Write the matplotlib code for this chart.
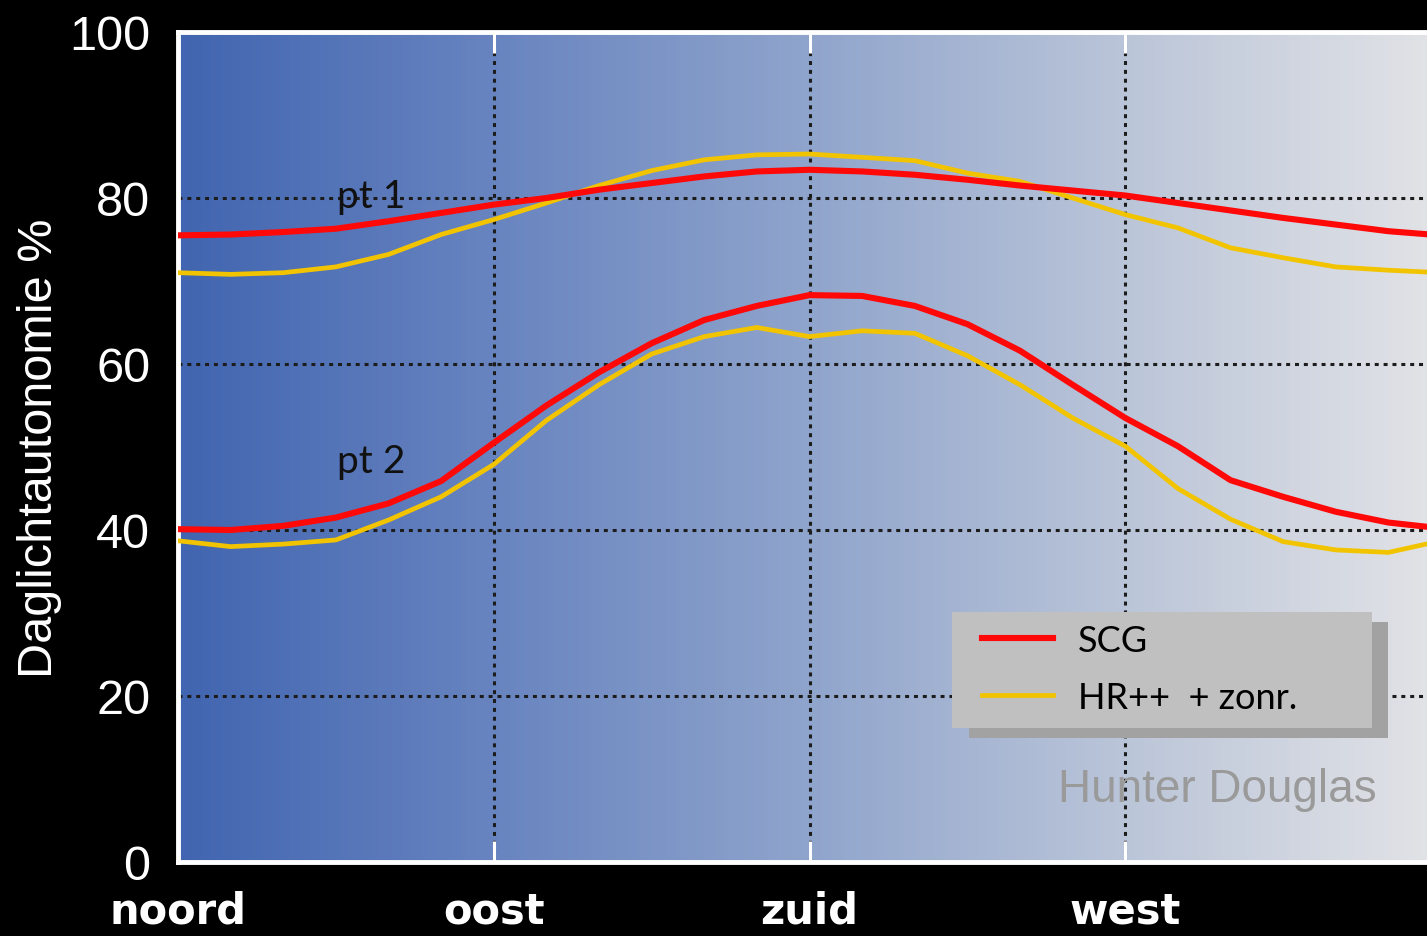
import numpy as np
import matplotlib.pyplot as plt
from matplotlib.colors import LinearSegmentedColormap
from matplotlib.patches import Rectangle

# azimuth in degrees (0 = noord, 90 = oost, 180 = zuid, 270 = west)
azimuth = [0, 15, 30, 45, 60, 75, 90, 105, 120, 135, 150, 165, 180,
           195, 210, 225, 240, 255, 270, 285, 300, 315, 330, 345, 360]

scg_pt1 = [75.5, 75.6, 75.9, 76.3, 77.2, 78.2, 79.2, 80.0, 81.0, 81.8, 82.6, 83.2, 83.4,
           83.2, 82.8, 82.2, 81.5, 80.9, 80.3, 79.4, 78.5, 77.6, 76.8, 76.0, 75.5]
hr_pt1 = [71.0, 70.8, 71.0, 71.7, 73.2, 75.6, 77.4, 79.4, 81.5, 83.3, 84.6, 85.2, 85.3,
          84.9, 84.5, 83.0, 82.0, 80.0, 78.0, 76.4, 74.0, 72.8, 71.7, 71.3, 71.0]
scg_pt2 = [40.1, 40.0, 40.5, 41.5, 43.2, 45.9, 50.5, 55.0, 59.0, 62.5, 65.3, 67.0, 68.3,
           68.2, 67.0, 64.8, 61.6, 57.5, 53.5, 50.1, 46.0, 44.0, 42.2, 40.9, 40.2]
hr_pt2 = [38.7, 38.0, 38.3, 38.8, 41.2, 44.0, 47.9, 53.2, 57.5, 61.2, 63.3, 64.4, 63.3,
          64.0, 63.7, 61.0, 57.5, 53.5, 50.1, 45.0, 41.3, 38.6, 37.6, 37.3, 38.7]

tick_pos = [0, 90, 180, 270]
tick_labels = ["noord", "oost", "zuid", "west"]
y_ticks = [0, 20, 40, 60, 80, 100]

red = "#ff0808"
yellow = "#f2c400"

fig = plt.figure(figsize=(14.27, 9.37), dpi=100, facecolor="black")
ax = fig.add_axes([178 / 1427, 1 - 863 / 937, 1 - 178 / 1427, 830 / 937])

# gradient background
grad = LinearSegmentedColormap.from_list(
    "bg", ["#4165b0", "#6884c0", "#8fa4cc", "#b9c4d8", "#e1e2e6"])
ax.imshow(np.linspace(0, 1, 256).reshape(1, -1), cmap=grad, aspect="auto",
          extent=[0, 356, 0, 100], zorder=0)

ax.set_xlim(0, 356)
ax.set_ylim(0, 100)

ax.grid(True, color="#1c1c1c", linestyle=(0, (1.3, 1.6)), linewidth=2.2, zorder=1)

ax.plot(azimuth, hr_pt1, color=yellow, lw=3.4, zorder=3, label="HR++  + zonr.")
ax.plot(azimuth, scg_pt1, color=red, lw=4.4, zorder=3, label="SCG")
ax.plot(azimuth, hr_pt2, color=yellow, lw=3.4, zorder=3)
ax.plot(azimuth, scg_pt2, color=red, lw=4.4, zorder=3)

ax.text(55, 80.2, "pt 1", fontsize=28, family="Lato", color="#111111",
        ha="center", va="center", zorder=4)
ax.text(55, 48.3, "pt 2", fontsize=28, family="Lato", color="#111111",
        ha="center", va="center", zorder=4)

for side in ["left", "top", "bottom"]:
    ax.spines[side].set_color("white")
    ax.spines[side].set_linewidth(3.5)
ax.spines["right"].set_visible(False)

ax.set_xticks(tick_pos)
ax.set_xticklabels(tick_labels, family="DejaVu Sans",
                   fontweight="bold", fontsize=30, color="white")
ax.tick_params(axis="x", direction="in", length=15, width=2.2, color="white",
               top=True, pad=20)
ax.set_yticks(y_ticks)
ax.set_yticklabels([str(v) for v in y_ticks], family="Liberation Sans",
                   fontsize=35, color="white")
ax.tick_params(axis="y", length=0, pad=20)

fig.text(40 / 1427, 1 - 448 / 937, "Daglichtautonomie %", rotation=90,
         ha="center", va="center", color="white", fontsize=35,
         family="Liberation Sans")

# legend box with shadow
ax.add_patch(Rectangle((0.633, 0.149), 0.336, 0.140, transform=ax.transAxes,
                       facecolor="#a2a2a2", edgecolor="none", zorder=5))
ax.add_patch(Rectangle((0.620, 0.161), 0.336, 0.140, transform=ax.transAxes,
                       facecolor="#c0c0c0", edgecolor="none", zorder=6))
handles, labels = ax.get_legend_handles_labels()
leg = ax.legend(handles[::-1], labels[::-1], loc="upper left",
                bbox_to_anchor=(0.644, 0.287), frameon=False, borderpad=0,
                borderaxespad=0, handlelength=1.95, handletextpad=0.7,
                labelspacing=0.67, prop={"family": "Lato", "size": 26})
leg.set_zorder(7)

ax.text(0.832, 0.088, "Hunter Douglas", transform=ax.transAxes, fontsize=33,
        family="Liberation Sans", color="#9a9a9a", ha="center", va="center", zorder=4)

fig.savefig("out.png", dpi=100, facecolor="black")
